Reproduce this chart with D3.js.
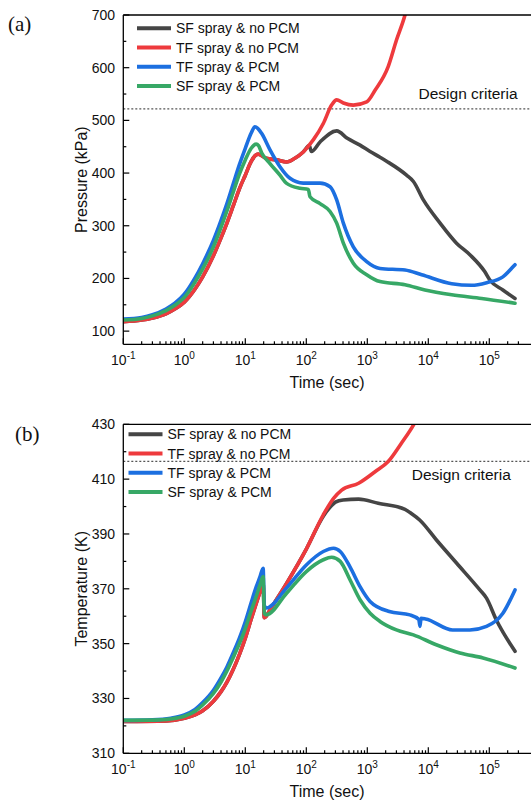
<!DOCTYPE html>
<html>
<head>
<meta charset="utf-8">
<script src="https://cdn.jsdelivr.net/npm/d3@7"></script>
<style>
body { margin: 0; background: #fff; }
svg { display: block; }
text { font-family: "Liberation Sans", Arial, sans-serif; fill: #111; }
</style>
</head>
<body>
<div id="chart"></div>
<script>
const seriesNames = ["SF spray & no PCM", "TF spray & no PCM", "TF spray & PCM", "SF spray & PCM"];
const seriesColors = ["#454545", "#ee3a3d", "#1c6fe0", "#37a866"];

// (a) pressure, kPa  -- [time sec, value]
const pressureSFnoPCM = [[0.1,118],[0.2,121],[0.3,125],[0.5,133],[0.7,142],[1,155],[1.5,180],[2,203],[3,243],[4,277],[5,305],[6.36,338],[8,370],[10,396],[12.5,422],[14.5,433],[16.3,436],[22,428],[32.6,425],[47.5,421],[65,428],[89,440],[112,452],[121,441],[168,459],[315,480],[470,466],[760,453],[1110,441],[1615,430],[2100,422],[4400,396],[5700,384],[8300,349],[15600,305],[29000,267],[48000,245],[84000,213],[102000,197],[167000,178],[264000,162]];
const pressureTFnoPCM = [[0.1,118],[0.2,121],[0.3,125],[0.5,133],[0.7,142],[1,155],[1.5,180],[2,203],[3,243],[4,277],[5,305],[6.36,338],[8,370],[10,396],[12.5,422],[14.5,433],[16.3,436],[22,428],[32.6,425],[47.5,421],[65,428],[89,440],[115,455],[130,463],[190,494],[260,529],[315,539],[405,533],[590,529],[977,535],[1340,557],[2200,602],[3000,652],[4150,700],[5500,760]];
const pressureTFPCM = [[0.1,123],[0.2,126],[0.3,131],[0.5,142],[0.7,153],[1,170],[1.5,201],[2,228],[3,272],[4,310],[5,342],[6.36,380],[8,416],[10,447],[12.5,476],[14.4,488],[16,485],[18.6,475],[25.4,444],[37,412],[54,390],[89,381],[168,381],[245,374],[315,349],[405,305],[590,260],[977,232],[1615,219],[4150,216],[7800,207],[24200,190],[51400,187],[90600,192],[167000,203],[245000,222],[264000,226]];
const pressureSFPCM = [[0.1,121],[0.2,124],[0.3,129],[0.5,139],[0.7,149],[1,164],[1.5,193],[2,218],[3,260],[4,297],[5,328],[6.36,364],[8,398],[10,425],[12.5,447],[15,455],[16.5,452],[18.6,438],[25.4,418],[37,396],[47,381],[79,371],[108,369],[115,355],[168,342],[245,327],[315,305],[405,267],[590,229],[977,207],[1615,194],[4150,188],[8800,178],[24200,169],[75000,162],[264000,153]];

// (b) temperature, K
const tempSFnoPCM = [[0.1,321.6],[0.5,321.8],[1,322.8],[1.5,324],[2,325.5],[3,329],[4,332.5],[5,336],[6.3,340.5],[8,346],[10,352],[12.5,359],[15,364.5],[17.5,369],[19.6,372],[20.5,359.5],[22,360],[25.4,362.3],[47.5,372],[100,384.5],[190,396.5],[240,399.5],[300,401.6],[400,402.4],[720,402.7],[1510,401.2],[4150,399],[5000,397.8],[7300,395],[13500,387.9],[29000,379.4],[70000,369.6],[90000,366.6],[130000,358.7],[264000,347.2]];
const tempTFnoPCM = [[0.1,321.6],[0.5,321.8],[1,322.8],[1.5,324],[2,325.5],[3,329],[4,332.5],[5,336],[6.3,340.5],[8,346],[10,352],[12.5,359],[15,364.5],[17.5,369],[19.6,372],[20.5,359.5],[22,360],[25.4,362.3],[47.5,372],[100,384.5],[190,397],[280,403],[380,406],[720,408.5],[1340,412.7],[2200,416.4],[3600,423],[5700,429.7],[8000,436]];
const tempTFPCM = [[0.1,322],[0.3,322.2],[0.6,322.8],[1,324],[1.5,326],[2,328.5],[3,333],[4,337.5],[5,341.5],[6.3,346.5],[8,352],[10,358],[12.5,365],[15,370.5],[17.5,374.5],[19.6,377.5],[20.5,364],[22,363],[47.5,370.3],[100,378.7],[190,383.6],[280,384.8],[360,383.6],[520,378],[760,370.8],[1110,365.4],[2300,361.7],[5000,360.5],[7000,358.8],[7300,356.3],[7600,359.2],[9000,359],[25000,355],[48000,355],[90000,356.3],[167000,361.1],[264000,369.6]];
const tempSFPCM = [[0.1,322],[0.3,322.1],[0.6,322.5],[1,323.5],[1.5,325.3],[2,327.6],[3,331.8],[4,336],[5,340],[6.3,344.8],[8,350],[10,355.5],[12.5,362],[15,367],[17.5,371.5],[19.6,374.5],[20.5,361],[22,360.5],[47.5,368.4],[100,376.3],[190,380.6],[260,381.5],[360,380],[520,373.3],[760,366],[1110,361.1],[1615,358.1],[3000,355],[5700,353.2],[13500,349.6],[33000,346.6],[79000,344.8],[264000,341.1]];

const designPressure = 522;
const designTemp = 416.5;

const xDecades = [0.1, 1, 10, 100, 1000, 10000, 100000];
const xExponents = ["-1", "0", "1", "2", "3", "4", "5"];
const pressureTicks = [100, 200, 300, 400, 500, 600, 700];
const pressureMinor = [150, 250, 350, 450, 550, 650];
const tempTicks = [310, 330, 350, 370, 390, 410, 430];
const tempMinor = [320, 340, 360, 380, 400, 420];

const width = 531, height = 802;
const left = 123.3;

const svg = d3.select("#chart").append("svg")
    .attr("width", width)
    .attr("height", height);

function panel(o) {
    const x = d3.scaleLog().domain([0.1, 1e6]).range([left, left + 7 * 61]);
    const y = d3.scaleLinear().domain(o.yDomain).range([o.bottom, o.top]);
    const g = svg.append("g");

    g.append("clipPath").attr("id", o.id + "-clip")
        .append("rect")
        .attr("x", left).attr("y", o.top)
        .attr("width", width - left).attr("height", o.bottom - o.top);

    // design criteria
    g.append("line")
        .attr("x1", left).attr("x2", width)
        .attr("y1", y(o.design)).attr("y2", y(o.design))
        .attr("stroke", "#555").attr("stroke-width", 1.3)
        .attr("stroke-dasharray", "2,2");
    g.append("text")
        .attr("x", o.designX).attr("y", o.designY)
        .style("font-size", "15.5px")
        .text("Design criteria");

    // curves
    const line = d3.line()
        .x(d => x(d[0]))
        .y(d => y(d[1]))
        .curve(d3.curveMonotoneX);

    g.append("g")
        .attr("clip-path", "url(#" + o.id + "-clip)")
        .selectAll("path")
        .data(o.series)
        .join("path")
        .attr("d", d => line(d))
        .attr("fill", "none")
        .attr("stroke", (d, i) => seriesColors[i])
        .attr("stroke-width", 3.6)
        .attr("stroke-linejoin", "round")
        .attr("stroke-linecap", "round");

    // axes lines
    g.append("line")
        .attr("x1", left).attr("x2", width).attr("y1", o.top).attr("y2", o.top)
        .attr("stroke", "#000").attr("stroke-width", 1.3);
    g.append("line")
        .attr("x1", left).attr("x2", width).attr("y1", o.bottom).attr("y2", o.bottom)
        .attr("stroke", "#000").attr("stroke-width", 1.3);
    g.append("line")
        .attr("x1", left).attr("x2", left).attr("y1", o.top).attr("y2", o.bottom)
        .attr("stroke", "#000").attr("stroke-width", 1.3);

    // y ticks (inward)
    g.append("g").selectAll("line")
        .data(o.yTicks)
        .join("line")
        .attr("x1", left).attr("x2", left + 6)
        .attr("y1", d => y(d)).attr("y2", d => y(d))
        .attr("stroke", "#000").attr("stroke-width", 1.2);
    g.append("g").selectAll("line")
        .data(o.yMinor)
        .join("line")
        .attr("x1", left).attr("x2", left + 3)
        .attr("y1", d => y(d)).attr("y2", d => y(d))
        .attr("stroke", "#000").attr("stroke-width", 1.2);
    g.append("g").selectAll("text")
        .data(o.yTicks)
        .join("text")
        .attr("x", 115).attr("y", d => y(d))
        .attr("dy", "0.35em")
        .attr("text-anchor", "end")
        .style("font-size", "14px")
        .text(d => d);

    // x ticks
    const minor = [];
    xDecades.forEach(d => { for (let k = 2; k <= 9; k++) if (d * k <= 3.1e5) minor.push(d * k); });
    g.append("g").selectAll("line")
        .data(xDecades)
        .join("line")
        .attr("x1", d => x(d)).attr("x2", d => x(d))
        .attr("y1", o.bottom).attr("y2", o.bottom - 6)
        .attr("stroke", "#000").attr("stroke-width", 1.2);
    g.append("g").selectAll("line")
        .data(minor)
        .join("line")
        .attr("x1", d => x(d)).attr("x2", d => x(d))
        .attr("y1", o.bottom).attr("y2", o.bottom - 3)
        .attr("stroke", "#000").attr("stroke-width", 1.2);
    const xl = g.append("g").selectAll("text")
        .data(xDecades)
        .join("text")
        .attr("x", d => x(d)).attr("y", o.bottom + 21)
        .attr("text-anchor", "middle")
        .style("font-size", "14px");
    xl.append("tspan").text("10");
    xl.append("tspan")
        .attr("dy", -6)
        .style("font-size", "10px")
        .text((d, i) => xExponents[i]);

    // axis titles
    g.append("text")
        .attr("transform", "translate(87," + ((o.top + o.bottom) / 2) + ") rotate(-90)")
        .attr("text-anchor", "middle")
        .style("font-size", "16px")
        .text(o.yLabel);
    g.append("text")
        .attr("x", 327).attr("y", o.bottom + 44)
        .attr("text-anchor", "middle")
        .style("font-size", "16px")
        .text("Time (sec)");

    // panel letter
    g.append("text")
        .attr("x", o.letterX).attr("y", o.letterY)
        .style("font-family", "'Liberation Serif', 'Times New Roman', serif")
        .style("font-size", "21px")
        .text(o.letter);

    // legend
    const lg = g.append("g").selectAll("g")
        .data(seriesNames)
        .join("g")
        .attr("transform", (d, i) => "translate(0," + (o.legendY + i * 19.2) + ")");
    lg.append("line")
        .attr("x1", o.legendX).attr("x2", o.legendX + 34)
        .attr("stroke", (d, i) => seriesColors[i])
        .attr("stroke-width", 4);
    lg.append("text")
        .attr("x", o.legendX + 39)
        .attr("dy", "0.36em")
        .style("font-size", "14px")
        .text(d => d);
}

panel({
    id: "pa", top: 15, bottom: 344.3,
    yDomain: [75, 700], yTicks: pressureTicks, yMinor: pressureMinor,
    series: [pressureSFnoPCM, pressureTFnoPCM, pressureTFPCM, pressureSFPCM],
    design: designPressure, designX: 418.5, designY: 98.5,
    yLabel: "Pressure (kPa)", letter: "(a)", letterX: 8, letterY: 31,
    legendX: 137, legendY: 28.3
});

panel({
    id: "pb", top: 424.3, bottom: 753.3,
    yDomain: [310, 430], yTicks: tempTicks, yMinor: tempMinor,
    series: [tempSFnoPCM, tempTFnoPCM, tempTFPCM, tempSFPCM],
    design: designTemp, designX: 411.7, designY: 480,
    yLabel: "Temperature (K)", letter: "(b)", letterX: 15, letterY: 441,
    legendX: 128.5, legendY: 434.3
});
</script>
</body>
</html>
